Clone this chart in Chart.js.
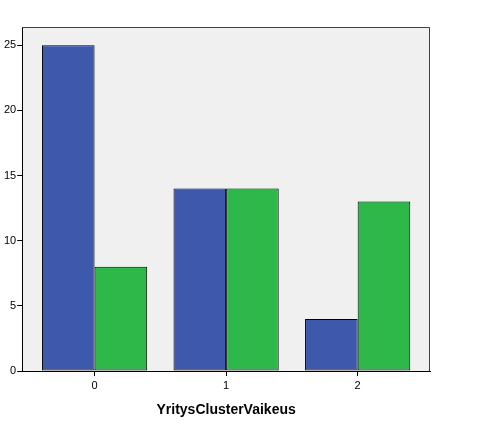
<!DOCTYPE html>
<html>
<head>
<meta charset="utf-8">
<script src="https://cdn.jsdelivr.net/npm/chart.js@4/dist/chart.umd.min.js"></script>
<style>
  html, body { margin: 0; padding: 0; background: #fff; }
  #wrap { width: 484px; height: 432px; }
</style>
</head>
<body>
<div id="wrap"><canvas id="c"></canvas></div>
<script>
const categories = [0, 1, 2];
const blueValues = [25, 14, 4];
const greenValues = [8, 14, 13];
const yTicks = [0, 5, 10, 15, 20, 25];

const toPoints = vals => vals.map((v, i) => ({ x: categories[i], y: v }));

// grey plot background + thin frame, like the SPSS output
const plotBox = {
    id: 'plotBox',
    beforeDraw(chart) {
        const a = chart.chartArea, ctx = chart.ctx;
        ctx.save();
        ctx.fillStyle = '#f0f0f0';
        ctx.fillRect(a.left, a.top, a.right - a.left, a.bottom - a.top);
        ctx.restore();
    },
    afterDraw(chart) {
        const a = chart.chartArea, ctx = chart.ctx;
        ctx.save();
        ctx.strokeStyle = '#404040';
        ctx.lineWidth = 1;
        ctx.beginPath();
        ctx.moveTo(a.left, a.top + 0.5);
        ctx.lineTo(a.right - 0.5, a.top + 0.5);
        ctx.lineTo(a.right - 0.5, a.bottom);
        ctx.stroke();
        ctx.restore();
    }
};

new Chart(document.getElementById('c'), {
    type: 'bar',
    data: {
        datasets: [
            { data: toPoints(blueValues), backgroundColor: '#3e58ac' },
            { data: toPoints(greenValues), backgroundColor: '#2eb84a' }
        ]
    },
    options: {
        responsive: true,
        maintainAspectRatio: false,
        animation: false,
        layout: { padding: { top: 27, right: 54, left: 3, bottom: 13 } },
        datasets: {
            bar: {
                categoryPercentage: 0.8, barPercentage: 1.0,
                borderColor: '#000', borderWidth: 1, borderSkipped: false, inflateAmount: 0
            }
        },
        plugins: { legend: { display: false }, tooltip: { enabled: false } },
        scales: {
            x: {
                type: 'linear',
                min: -0.55,
                max: 2.55,
                offset: false,
                afterBuildTicks: s => { s.ticks = categories.map(v => ({ value: v })); },
                grid: { offset: false, drawOnChartArea: false, drawTicks: true, tickLength: 5, color: '#000' },
                border: { color: '#000', width: 1 },
                ticks: { color: '#000', font: { family: 'Liberation Sans', size: 11 }, padding: 3 },
                title: {
                    display: true,
                    text: 'YritysClusterVaikeus',
                    color: '#000',
                    font: { family: 'Liberation Sans', size: 14, weight: 'bold' },
                    padding: { top: 7, bottom: 0 }
                }
            },
            y: {
                min: 0,
                max: 26.4,
                afterBuildTicks: s => { s.ticks = yTicks.map(v => ({ value: v })); },
                grid: { drawOnChartArea: false, drawTicks: true, tickLength: 5, color: '#000' },
                border: { color: '#000', width: 1 },
                ticks: { color: '#000', font: { family: 'Liberation Sans', size: 11 }, padding: 1 }
            }
        }
    },
    plugins: [plotBox]
});
</script>
</body>
</html>
